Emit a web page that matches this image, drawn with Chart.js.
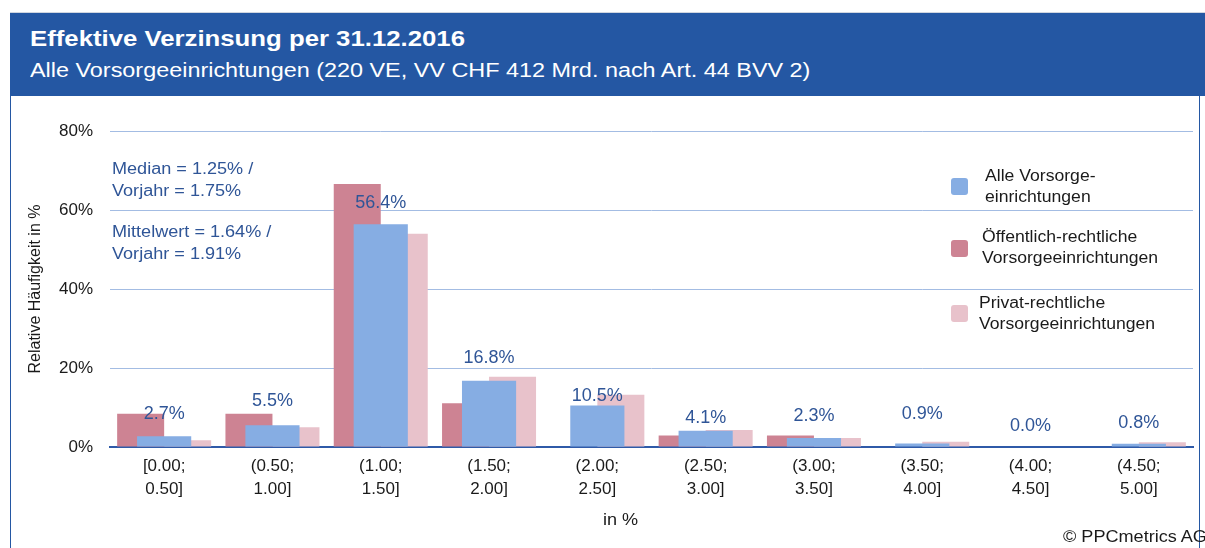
<!DOCTYPE html>
<html lang="de">
<head>
<meta charset="utf-8">
<title>Effektive Verzinsung per 31.12.2016</title>
<script src="https://cdn.jsdelivr.net/npm/chart.js@4.4.1/dist/chart.umd.min.js"></script>
<style>
    html, body { margin: 0; padding: 0; width: 1205px; height: 548px; overflow: hidden; background: #fff; }
    body { position: relative; font-family: "Liberation Sans", Arial, sans-serif; }
    #kopf { position: absolute; left: 10px; top: 12px; width: 1195px; height: 84px; background: #2457a3; border-top: 1px solid #d0d6e0; box-sizing: border-box; }
    #rahmen { position: absolute; left: 10px; top: 96px; width: 1190px; height: 460px; border-left: 1px solid #2457a3; border-right: 1px solid #2457a3; box-sizing: border-box; }
    #wrap { position: absolute; left: 0; top: 96px; width: 1205px; height: 452px; }
    .txt { position: absolute; white-space: nowrap; transform-origin: 0 0; transform: scaleX(1.13); }
    #titel { left: 30px; top: 28px; font: bold 22px/22px "Liberation Sans", Arial, sans-serif; color: #fff; transform: scaleX(1.17); }
    #untertitel { left: 30px; top: 60px; font: 20px/20px "Liberation Sans", Arial, sans-serif; color: #fff; transform: scaleX(1.17); }
    .notiz { left: 112px; font: 16px/22px "Liberation Sans", Arial, sans-serif; color: #2f5597; }
    .leg { position: absolute; left: 951px; }
    .leg .box { position: absolute; left: 0; width: 17px; height: 17px; border-radius: 3px; }
    .leg .lab { position: absolute; white-space: nowrap; font: 16px/20.6px "Liberation Sans", Arial, sans-serif; color: #1a1a1a; transform-origin: 0 0; transform: scaleX(1.1); }
    #xtitel { left: 603px; top: 512px; font: 16px/16px "Liberation Sans", Arial, sans-serif; color: #1a1a1a; }
    #copy { left: 1063px; top: 529px; font: 16px/16px "Liberation Sans", Arial, sans-serif; color: #1a1a1a; }
</style>
</head>
<body>
<div id="kopf"></div>
<div id="rahmen"></div>
<div id="titel" class="txt">Effektive Verzinsung per 31.12.2016</div>
<div id="untertitel" class="txt">Alle Vorsorgeeinrichtungen (220 VE, VV CHF 412 Mrd. nach Art. 44 BVV 2)</div>
<div id="wrap"><canvas id="verzinsungChart"></canvas></div>
<div class="txt notiz" style="top:158px">Median = 1.25% /<br>Vorjahr = 1.75%</div>
<div class="txt notiz" style="top:221px">Mittelwert = 1.64% /<br>Vorjahr = 1.91%</div>
<div id="legende"></div>
<div id="xtitel" class="txt">in %</div>
<div id="copy" class="txt">© PPCmetrics AG</div>

<script>
// Verteilung der effektiven Verzinsung (Anteil in %)
const kategorien = [
    ['[0.00;', '0.50]'], ['(0.50;', '1.00]'], ['(1.00;', '1.50]'], ['(1.50;', '2.00]'], ['(2.00;', '2.50]'],
    ['(2.50;', '3.00]'], ['(3.00;', '3.50]'], ['(3.50;', '4.00]'], ['(4.00;', '4.50]'], ['(4.50;', '5.00]']
];
const alleVE      = [2.7, 5.5, 56.4, 16.8, 10.5, 4.1, 2.3, 0.9, 0.0, 0.8];
const oeffentlich = [8.4, 8.4, 66.6, 11.1, 0.0, 2.9, 2.9, 0.0, 0.0, 0.0];
const privat      = [1.7, 5.0, 54.0, 17.8, 13.2, 4.3, 2.3, 1.3, 0.0, 1.2];
const yTicks = [0, 20, 40, 60, 80];

const legendeTexte = [
    ['Alle Vorsorge-', 'einrichtungen'],
    ['Öffentlich-rechtliche', 'Vorsorgeeinrichtungen'],
    ['Privat-rechtliche', 'Vorsorgeeinrichtungen']
];

// Darstellung
const farben = ['#86ade3', '#cd8393', '#e8c2cb'];
const legendeOben = [166, 227, 293];
const legendeBoxOben = [178, 240, 305];
const legendeTextLinks = [34, 31, 28];
const labelAbstand = [22, 24, 21, 23, 9, 13, 22, 29, 21, 21];
const schrift = '"Liberation Sans", Arial, sans-serif';

const wertLabels = {
    id: 'wertLabels',
    afterDatasetsDraw(chart) {
        const ctx = chart.ctx;
        const meta = chart.getDatasetMeta(0);
        ctx.save();
        ctx.font = '18px ' + schrift;
        ctx.fillStyle = '#2f5597';
        ctx.textAlign = 'center';
        ctx.textBaseline = 'middle';
        meta.data.forEach((bar, i) => {
            ctx.fillText(alleVE[i].toFixed(1) + '%', bar.x, bar.y - labelAbstand[i]);
        });
        ctx.restore();
    }
};

Chart.defaults.font.family = schrift;
Chart.defaults.color = '#1a1a1a';

// Blaue Säule liegt ungruppiert mittig über dem roten/rosa Paar
const chart = new Chart(document.getElementById('verzinsungChart').getContext('2d'), {
    type: 'bar',
    data: {
        labels: kategorien,
        datasets: [
            { label: legendeTexte[0].join(''), data: alleVE, backgroundColor: farben[0],
              grouped: false, barPercentage: 0.5, categoryPercentage: 1.0 },
            { label: legendeTexte[1].join(' '), data: oeffentlich, backgroundColor: farben[1],
              barPercentage: 1.0, categoryPercentage: 0.868 },
            { label: legendeTexte[2].join(' '), data: privat, backgroundColor: farben[2],
              barPercentage: 1.0, categoryPercentage: 0.868 }
        ]
    },
    options: {
        responsive: true,
        maintainAspectRatio: false,
        animation: false,
        layout: { padding: { top: 35, right: 12, left: 0, bottom: 0 } },
        plugins: { legend: { display: false }, tooltip: { enabled: false } },
        scales: {
            x: {
                offset: true,
                grid: { display: false, drawTicks: false },
                border: { color: '#2f5aa8', width: 2 },
                ticks: { font: { size: 17, lineHeight: 1.35 }, padding: 8, maxRotation: 0, autoSkip: false },
                afterFit: s => { s.height = 101; }
            },
            y: {
                min: 0,
                max: 80,
                afterBuildTicks: s => { s.ticks = yTicks.map(v => ({ value: v })); },
                ticks: { callback: v => v + '%', padding: 17, font: { size: 17 } },
                grid: { color: '#a3bce3', drawTicks: false },
                border: { display: false },
                title: { display: true, text: 'Relative Häufigkeit in %', font: { size: 16 }, padding: { top: 26, bottom: 0 } },
                afterFit: s => { s.width = 110; }
            }
        }
    },
    plugins: [wertLabels]
});

// Legende als HTML (liegt über dem Diagrammbereich)
const legende = document.getElementById('legende');
chart.data.datasets.forEach((ds, i) => {
    const item = document.createElement('div');
    item.className = 'leg';
    item.style.top = legendeOben[i] + 'px';
    item.innerHTML = `
        <div class="box" style="top:${legendeBoxOben[i] - legendeOben[i]}px; background:${ds.backgroundColor}"></div>
        <div class="lab" style="left:${legendeTextLinks[i]}px">${legendeTexte[i].join('<br>')}</div>
    `;
    legende.appendChild(item);
});
</script>
</body>
</html>
